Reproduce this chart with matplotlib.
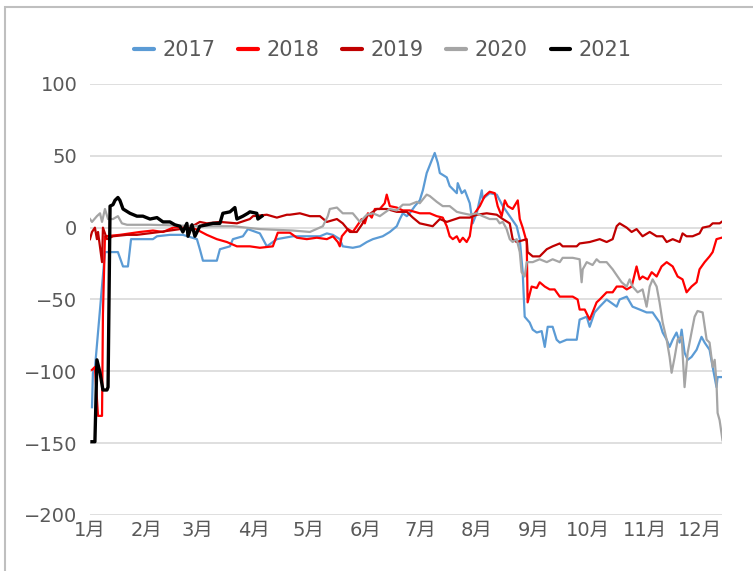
import matplotlib.pyplot as plt
from matplotlib.patches import Rectangle

plt.rcParams['font.family'] = ['DejaVu Sans', 'Noto Sans CJK SC']

# day of year (0 = 1 Jan) and value
d2017 = [1.1, 1.6, 2.7, 8.2, 9.3, 15.3, 18.1, 20.8, 22.5, 34.5, 36.7, 43.8, 50.9, 58.6, 60.2,
         61.9, 69.5, 71.2, 76.7, 78.3, 83.8, 86.5, 93.1, 96.9, 102.4, 111.2, 115, 126, 129.8,
         133.1, 136.9, 138.5, 144, 147.9, 151.7, 155, 160.4, 164.3, 168.1, 169.8, 171.4,
         173.6, 175.2, 178, 180.7, 182.4, 184.5, 187.3, 188.9, 190.6, 191.7, 195.5,
         197.1, 201, 201.5, 203.7, 205.4, 208.1, 209.7, 211.9, 214.7, 215.2, 219, 222.9,
         226.2, 230, 233.8, 235.5, 237.1, 238.2, 240.9, 242.6, 244.8, 247.5, 249.2, 250.8,
         253.5, 255.7, 257.4, 261.2, 266.7, 268.3, 272.2, 273.8, 276.5, 279.3, 283.1, 288.6,
         290.2, 294.1, 297.3, 301.2, 305, 308.3, 312.1, 313.8, 316, 317.6, 319.3, 321.4,
         323.1, 324.2, 325.8, 327.5, 329.6, 332.4, 335.1, 336.8, 339.5, 341.2, 343.3, 343.9,
         346.1]
v2017 = [-125, -101, -98, -17, -17, -17, -27, -27, -8, -8, -6, -5, -5, -8, -15,
         -23, -23, -15, -13, -8, -6, -1, -4, -13, -8, -6, -6, -6, -4,
         -5, -8, -13, -14, -13, -10, -8, -6, -3, 1, 6, 10,
         8, 10, 15, 19, 26, 38, 47, 52, 45, 38, 35,
         29, 24, 31, 24, 26, 17, 3, 10, 26, 20, 24, 23,
         15, 8, 1, -8, -31, -62, -66, -71, -73, -72, -83, -69,
         -69, -78, -80, -78, -78, -64, -62, -69, -59, -55, -50, -55,
         -50, -48, -55, -57, -59, -59, -66, -73, -78, -83, -78, -73,
         -80, -71, -87, -92, -90, -85, -76, -80, -85, -97, -111, -104,
         -104]

d2018 = [1.1, 2.7, 4.4, 6.6, 7.1, 8.2, 16.4, 27.4, 34.5, 40, 45.5, 53.1, 58.6, 64,
         69.5, 75, 80.5, 87.6, 93.1, 100.2, 102.9, 109.5, 113.4, 118.8, 124.3, 129.8,
         133.1, 135.8, 136.9, 138, 141.3, 144, 146.2, 148.9, 150.6, 152.3, 154.4, 156.1,
         158.8, 161.5, 162.6, 164.3, 168.1, 171.4, 175.2, 180.7, 186.2, 190, 193.3, 195.5,
         197.1, 198.8, 201, 202.6, 204.3, 206.4, 208.1, 209.7, 213.6, 216.3, 219, 221.8,
         223.4, 225.6, 227.3, 228.9, 231.6, 234.4, 235.5, 237.1, 239.3, 239.8, 242, 244.8,
         246.4, 249.2, 251.9, 254.6, 257.4, 264.5, 267.2, 268.3, 271.1, 273.8, 275.4, 277.6,
         279.3, 283.1, 286.4, 288.6, 291.9, 294.1, 296.8, 299.5, 301.2, 302.8, 305.6, 307.8,
         310.5, 313.2, 316, 319.3, 322, 324.7, 326.9, 329.6, 332.4, 334, 336.8, 339.5, 341.2,
         343.3, 346.1]
v2018 = [-99, -97, -131, -131, -60, -6, -5, -3, -2, -3, 0, 1, -1.4, -5,
         -8, -10, -13, -13, -14, -13, -3.5, -3.5, -7, -8, -7, -8,
         -6, -10, -13, -6, -1, -3, 1, 6, 3, 10, 7, 13,
         13, 17, 23, 15, 14, 12, 12, 10, 10, 8, 7, 1,
         -6, -8, -6, -10, -7, -10, -6, 8, 15, 22, 25, 24,
         15, 8, 19, 15, 13, 19, 6, 0, -10, -52, -41, -42,
         -38, -41, -43, -43, -48, -48, -50, -57, -57, -64, -59, -52,
         -50, -45, -45, -41, -41, -43, -41, -27, -36, -34, -36, -31,
         -34, -27, -24, -27, -34, -36, -45, -41, -38, -29, -24, -20, -17,
         -8, -7]

d2019 = [0, 1.1, 2.7, 3.8, 4.4, 6.6, 7.1, 9.3, 12.6, 20.3, 25.7, 38.3, 54.8, 60.2, 64,
         71.2, 80.5, 87.6, 89.3, 96.9, 102.4, 107.9, 109.5, 115, 120.5, 126, 129.8, 135.3,
         138.5, 142.4, 146.2, 148.9, 151.7, 157.2, 162.6, 168.1, 173.6, 176.9, 180.7,
         187.8, 191.7, 195.5, 202.6, 208.1, 211.9, 217.4, 222.9, 226.2, 230, 231.6, 233.8,
         239.3, 239.8, 242.6, 246.4, 250.3, 253.5, 257.4, 259, 266.7, 268.3, 273.8, 279.3,
         283.1, 286.4, 288.6, 290.2, 294.1, 296.8, 299.5, 302.8, 306.7, 310.5, 313.8, 316,
         319.3, 323.1, 324.7, 326.9, 330.2, 334, 335.7, 339.5, 341.2, 345, 346.1]
v2019 = [-8, -3, 0, -8, -3, -24, 0, -8, -6, -5, -5, -3, 0, 4, 3,
         4, 3, 6, 8, 9, 7, 9, 9, 10, 8, 8, 4, 6,
         3, -3, -3, 2, 8, 13, 13, 11, 11, 7, 3,
         1, 6, 4, 7, 7, 9, 10, 9, 6, 3, -8, -10,
         -8, -17, -20, -20, -15, -13, -11, -13, -13, -11, -10, -8,
         -10, -8, 1, 3, 0, -3, -1, -6, -3, -6, -6, -10,
         -8, -10, -4, -6, -6, -4, 0, 1, 3, 3, 4]

d2020 = [0, 1.1, 3.8, 5.5, 6.6, 8.2, 9.9, 12.6, 15.3, 17.5, 20.3, 32.9, 61.9, 78.3, 93.1,
         111.2, 120.5, 127.6, 130.3, 131.4, 135.3, 138.5, 144, 147.9, 151.7, 155, 158.8,
         164.3, 168.1, 171.4, 175.2, 179.1, 180.7, 184.5, 186.2, 190, 193.3, 197.1, 201,
         204.3, 208.1, 211.9, 215.2, 219, 222.9, 224.5, 226.2, 228.3, 230, 231.6, 233.8,
         235.5, 236.5, 238.2, 239.3, 242.6, 246.4, 250.3, 253.5, 257.4, 259, 264.5, 268.3,
         269.4, 270, 272.2, 275.4, 277.6, 279.3, 283.1, 286.4, 289.1, 291.3, 294.1, 295.7,
         297.3, 300.1, 302.8, 305, 306.7, 308.3, 310.5, 312.1, 313.8, 316, 317.6, 318.7,
         320.4, 322, 324.2, 325.8, 327.5, 329.6, 331.3, 332.9, 335.7, 337.9, 339.5, 341.2,
         342.3, 343.3, 343.9, 345, 346.6]
v2020 = [6, 4, 8, 10, 4, 13, 6, 6, 8, 3, 2, 2, 1, 1, -1,
         -2, -3, 1, 8, 13, 14, 10, 10, 4, 9, 10, 8,
         13, 12, 16, 16, 18, 17, 23, 22, 18, 15, 15, 11,
         10, 9, 10, 8, 6, 6, 3, 4, -1, -8, -10, -8,
         -17, -31, -34, -24, -24, -22, -24, -22, -24, -21, -21, -22,
         -38, -29, -24, -26, -22, -24, -24, -29, -34, -38, -41, -36,
         -41, -45, -43, -55, -41, -36, -41, -52, -66, -78, -90, -101,
         -90, -78, -76, -111, -87, -73, -62, -58, -59, -78, -80, -97,
         -92, -108, -129, -134, -148]

d2021 = [1.1, 2.7, 3.8, 5.5, 7.1, 9.3, 9.9, 11, 12.6, 13.7, 15.3, 16.4, 18.1, 21.9, 25.7,
         29, 32.9, 36.7, 40, 43.8, 46.5, 49.3, 50.9, 53.1, 53.7, 55.9, 57.5, 60.2, 64,
         67.4, 71.2, 72.8, 76.7, 79.4, 80.5, 83.8, 86.5, 87.6, 91.4, 92, 94.2]
v2021 = [-149, -149, -92, -101, -113, -113, -111, 15, 16, 19, 21, 19, 13, 10, 8,
         8, 6, 7, 4, 4, 2, 1, -3, 3, -6, 2, -6, 1, 2,
         3, 3, 10, 11, 14, 6, 8, 10, 11, 10, 6, 8]

years = ['2017', '2018', '2019', '2020', '2021']
colors = ['#5B9BD5', '#FF0000', '#C00000', '#A5A5A5', '#000000']

month_days = [0, 31, 59, 90, 120, 151, 181, 212, 243, 273, 304, 334]
month_labels = ['1月', '2月', '3月', '4月', '5月', '6月', '7月', '8月', '9月', '10月', '11月', '12月']

fig = plt.figure(figsize=(7.53, 5.71), dpi=100)
ax = fig.add_axes([0.1195, 0.0981, 0.8393, 0.7548])

series = [(d2017, v2017), (d2018, v2018), (d2019, v2019), (d2020, v2020), (d2021, v2021)]
for (d, v), yr, c in zip(series, years, colors):
    lw = 2.4 if yr == '2021' else 1.6
    ax.plot(d, v, color=c, lw=lw, label=yr)

ax.set_xlim(0, 346.3)
ax.set_ylim(-200, 100)
ax.set_yticks(range(-200, 101, 50))
ax.set_xticks(month_days)
ax.set_xticklabels(month_labels)
ax.yaxis.grid(True, color='#D9D9D9', lw=1.2)
ax.set_axisbelow(True)
for s in ax.spines.values():
    s.set_visible(False)
ax.tick_params(length=0, labelsize=14, colors='#595959')
ax.tick_params(axis='y', pad=9)
ax.tick_params(axis='x', pad=4)

leg = fig.legend(loc='center', bbox_to_anchor=(383 / 753, 1 - 50 / 571), ncol=5, frameon=False,
                 fontsize=15, labelcolor='#595959', handlelength=0.95, handletextpad=0.4,
                 columnspacing=1.1)
for h in leg.legend_handles:
    h.set_linewidth(3)
    h.set_solid_capstyle('round')

# outer chart border
fig.patches.append(Rectangle((5 / 753, -0.1), 1.2, 1.1 - 7 / 571, fill=False,
                             edgecolor='#BFBFBF', lw=1.5, transform=fig.transFigure))

plt.savefig('out.png', dpi=100)
